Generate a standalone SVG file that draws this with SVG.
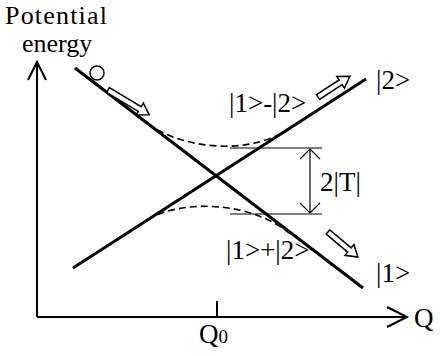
<svg xmlns="http://www.w3.org/2000/svg" width="440" height="356" viewBox="0 0 440 356" font-family="'Liberation Serif', 'Times New Roman', serif">
<style>
text{font-family:'Liberation Serif','Times New Roman',serif;fill:#000;font-size:27px}
.ax{stroke:#000;stroke-width:2;fill:none}
.ln{stroke:#000;stroke-width:3;fill:none;stroke-linecap:butt}
.ds{stroke:#000;stroke-width:1.6;fill:none;stroke-dasharray:7 4}
.th{stroke:#000;stroke-width:1.2;fill:none}
.ha{fill:#fff;stroke:#000;stroke-width:1.5;stroke-linejoin:miter}
</style>
<g id="axes">
<path class="ax" d="M37,317 V62 M28,80 L37,62 L46,80"/>
<path class="ax" d="M37,317 H407 M387,307 L407,317 L387,327"/>
<path class="ax" d="M217,301 V317"/>
<text x="5" y="24" style="font-size:26px" textLength="102">Potential</text>
<text x="22" y="52" style="font-size:26px">energy</text>
<text x="414" y="327">Q</text>
<text x="199" y="343">Q<tspan style="font-size:19px">0</tspan></text>
</g>
<g id="connectors">
<path class="ln" d="M75,68 L363,288"/>
<path class="ln" d="M73,268 L366,79"/>
<path class="ds" d="M148,123.8 C180,148 255,160 300,121"/>
<path class="ds" d="M148,219.5 C180,200 250,200 290,233.8"/>
<path class="th" d="M230,148 H322 M230,214 H322"/>
<path class="th" d="M310,149 V213 M300,159 L310,149 L320,159 M300,203 L310,213 L320,203"/>
</g>
<g id="ball"><circle cx="97" cy="73" r="7" fill="#fff" stroke="#000" stroke-width="1.5"/></g>
<g id="arrow1"><path class="ha" transform="translate(108,90) rotate(31)" d="M0,-2.8 H37 V-7 L48,0 L37,7 V2.8 H0 Z"/></g>
<g id="arrow2"><path class="ha" transform="translate(318,97) rotate(-33)" d="M0,-2.8 H27 V-7 L38,0 L27,7 V2.8 H0 Z"/></g>
<g id="arrow3"><path class="ha" transform="translate(328,232) rotate(40)" d="M0,-2.8 H28 V-7 L39,0 L28,7 V2.8 H0 Z"/></g>
<g id="state2"><text x="376" y="89">|2&gt;</text></g>
<g id="state1"><text x="376" y="282">|1&gt;</text></g>
<g id="antibond"><text x="229" y="112">|1&gt;-|2&gt;</text></g>
<g id="bond"><text x="226" y="259">|1&gt;+|2&gt;</text></g>
<g id="gap"><text x="320" y="191">2|T|</text></g>
</svg>
